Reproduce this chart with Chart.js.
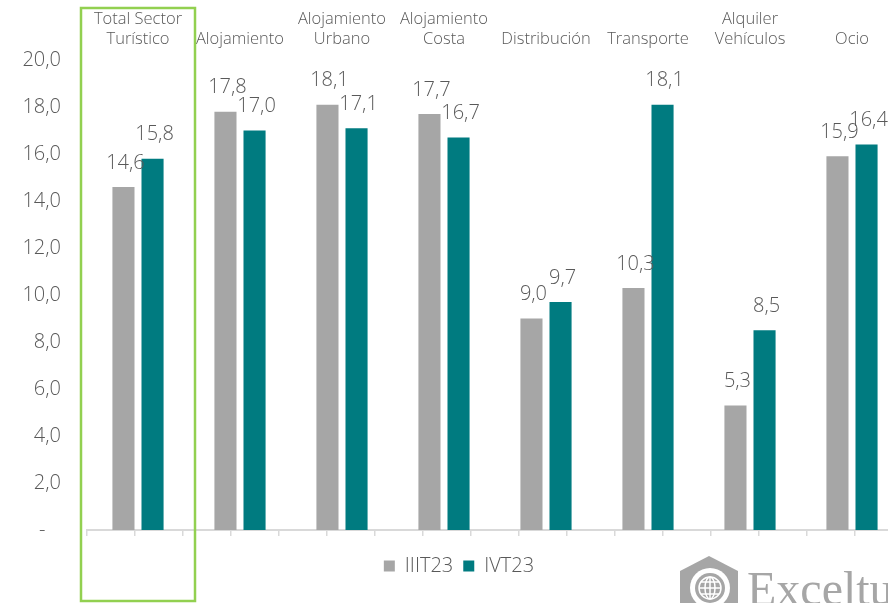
<!DOCTYPE html>
<html>
<head>
<meta charset="utf-8">
<script src="https://cdn.jsdelivr.net/npm/chart.js@4.4.0/dist/chart.umd.min.js"></script>
<style>
    html, body { margin: 0; padding: 0; background: #fff; overflow: hidden; }
    #wrap { width: 920px; height: 603px; position: relative; }
</style>
</head>
<body>
<div id="wrap"><canvas id="chart"></canvas></div>
<script>
// datos
const categories = [
    ['Total Sector', 'Turístico'],
    'Alojamiento',
    ['Alojamiento', 'Urbano'],
    ['Alojamiento', 'Costa'],
    'Distribución',
    'Transporte',
    ['Alquiler', 'Vehículos'],
    'Ocio'
];
const seriesNames = ['IIIT23', 'IVT23'];
const valuesIIIT23 = [14.6, 17.8, 18.1, 17.7, 9.0, 10.3, 5.3, 15.9];
const valuesIVT23 = [15.8, 17.0, 17.1, 16.7, 9.7, 18.1, 8.5, 16.4];
const yTicks = [0, 2, 4, 6, 8, 10, 12, 14, 16, 18, 20];

const GRAY = '#a6a6a6';
const TEAL = '#007b80';
const TEXT = '#595959';
const FONT = "'Open Sans', 'Noto Sans', sans-serif";

function fmt(v) {
    return v.toFixed(1).replace('.', ',');
}

// etiquetas encima de las barras
const valueLabels = {
    id: 'valueLabels',
    afterDatasetsDraw(chart) {
        const ctx = chart.ctx;
        ctx.save();
        ctx.font = '300 20px ' + FONT;
        ctx.fillStyle = TEXT;
        ctx.textAlign = 'center';
        ctx.textBaseline = 'middle';
        chart.data.datasets.forEach((ds, i) => {
            chart.getDatasetMeta(i).data.forEach((bar, j) => {
                ctx.fillText(fmt(ds.data[j]), bar.x + 2, bar.y - 24);
            });
        });
        ctx.restore();
    }
};

// recuadro verde del total + logo
const extras = {
    id: 'extras',
    afterDraw(chart) {
        const ctx = chart.ctx;
        const x = chart.scales.x;
        const c = x.getPixelForValue(0);
        ctx.save();
        ctx.strokeStyle = '#92d050';
        ctx.lineWidth = 2.5;
        ctx.strokeRect(c - 57, 8, 114, 593);

        // logo Exceltur
        ctx.fillStyle = GRAY;
        ctx.beginPath();
        ctx.moveTo(680, 571);
        ctx.lineTo(709, 556);
        ctx.lineTo(738, 571);
        ctx.lineTo(738, 610);
        ctx.lineTo(680, 610);
        ctx.closePath();
        ctx.fill();
        ctx.fillStyle = '#fff';
        ctx.beginPath();
        ctx.arc(710, 588, 20, 0, Math.PI * 2);
        ctx.fill();
        ctx.fillStyle = GRAY;
        ctx.beginPath();
        ctx.arc(710, 588, 15, 0, Math.PI * 2);
        ctx.fill();
        ctx.strokeStyle = '#fff';
        ctx.lineWidth = 1.5;
        ctx.beginPath();
        ctx.arc(710, 588, 11, 0, Math.PI * 2);
        ctx.moveTo(699, 588); ctx.lineTo(721, 588);
        ctx.moveTo(701, 582); ctx.lineTo(719, 582);
        ctx.moveTo(701, 594); ctx.lineTo(719, 594);
        ctx.moveTo(710, 577); ctx.lineTo(710, 599);
        ctx.stroke();
        ctx.beginPath();
        ctx.ellipse(710, 588, 5, 11, 0, 0, Math.PI * 2);
        ctx.stroke();

        ctx.fillStyle = GRAY;
        ctx.font = "48px 'Liberation Serif', serif";
        ctx.textAlign = 'left';
        ctx.textBaseline = 'alphabetic';
        ctx.fillText('Exceltur', 747, 605);
        ctx.restore();
    }
};

// marcas del eje inferior: bordes y centros de cada categoria
const halfSteps = [];
for (let i = 0; i <= categories.length * 2; i++) halfSteps.push(i);

new Chart(document.getElementById('chart'), {
    type: 'bar',
    data: {
        labels: categories,
        datasets: [
            {
                label: seriesNames[0],
                data: valuesIIIT23,
                backgroundColor: GRAY,
                categoryPercentage: 0.57,
                barPercentage: 0.76
            },
            {
                label: seriesNames[1],
                data: valuesIVT23,
                backgroundColor: TEAL,
                categoryPercentage: 0.57,
                barPercentage: 0.76
            }
        ]
    },
    options: {
        responsive: true,
        maintainAspectRatio: false,
        animation: false,
        layout: { padding: { left: 15, right: 17, top: 0, bottom: 17 } },
        scales: {
            x: {
                display: true,
                position: 'bottom',
                offset: true,
                grid: { display: false },
                border: { display: false },
                ticks: { display: false },
                afterFit(scale) { scale.height = 0; }
            },
            xTicks: {
                type: 'linear',
                position: 'bottom',
                min: 0,
                max: categories.length * 2,
                afterBuildTicks(scale) {
                    scale.ticks = halfSteps.map(v => ({ value: v }));
                },
                grid: {
                    drawOnChartArea: false,
                    drawTicks: true,
                    tickLength: 6,
                    color: '#d9d9d9',
                    lineWidth: 1.5
                },
                border: { display: true, color: '#d9d9d9', width: 2 },
                ticks: { display: false, autoSkip: false },
                afterFit(scale) { scale.height = 16; }
            },
            xTop: {
                type: 'category',
                position: 'top',
                offset: true,
                labels: categories,
                grid: { display: false, drawTicks: false },
                border: { display: false },
                ticks: {
                    color: TEXT,
                    font: { family: FONT, size: 16.5, weight: 300 },
                    padding: 11,
                    maxRotation: 0,
                    autoSkip: false
                },
                afterFit(scale) { scale.height = 60; }
            },
            y: {
                min: 0,
                max: 20,
                afterBuildTicks(scale) {
                    scale.ticks = yTicks.map(v => ({ value: v }));
                },
                grid: { display: false, drawTicks: false },
                border: { display: false },
                ticks: {
                    color: TEXT,
                    font: { family: FONT, size: 20, weight: 300 },
                    padding: 26,
                    callback: v => v === 0 ? '-   ' : fmt(v)
                },
                afterFit(scale) { scale.width = 72; }
            }
        },
        plugins: {
            legend: {
                position: 'bottom',
                labels: {
                    color: TEXT,
                    font: { family: FONT, size: 20, weight: 300 },
                    boxWidth: 11,
                    boxHeight: 11,
                    padding: 10
                }
            },
            tooltip: { enabled: false }
        }
    },
    plugins: [valueLabels, extras]
});
</script>
</body>
</html>
